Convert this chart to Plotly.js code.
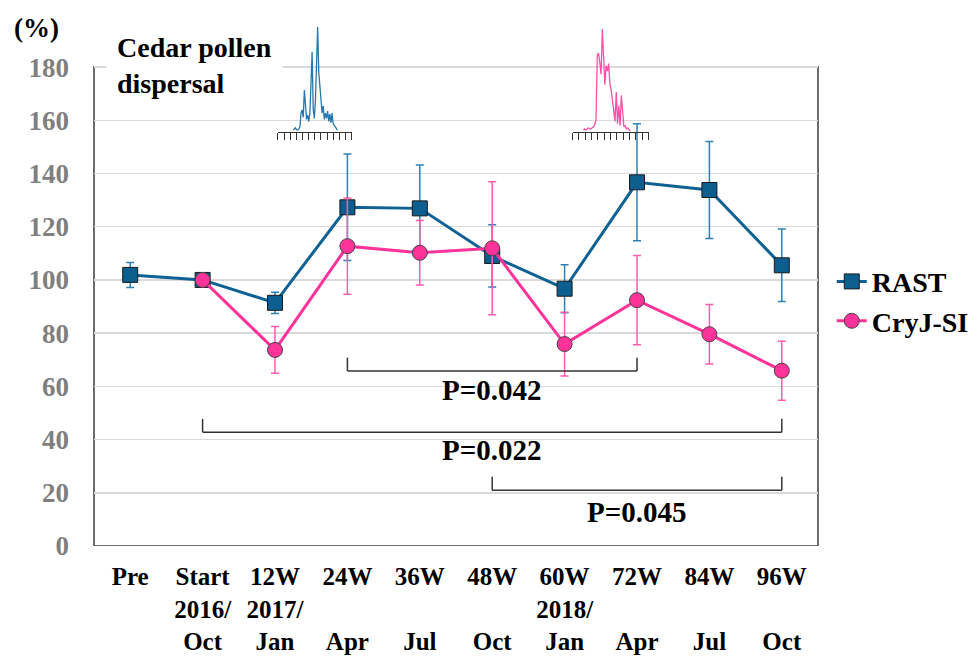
<!DOCTYPE html>
<html>
<head>
<meta charset="utf-8">
<script src="https://cdn.plot.ly/plotly-3.0.1.min.js"></script>
<style>html,body{margin:0;padding:0;background:#fff;}#chart{width:978px;height:659px;}</style>
</head>
<body>
<div id="chart"></div>
<script>
// ---- data ----
const categories = ['Pre','Start','12W','24W','36W','48W','60W','72W','84W','96W'];
const tickLabels = ['Pre','Start<br>2016/<br>Oct','12W<br>2017/<br>Jan','24W<br> <br>Apr','36W<br> <br>Jul',
                    '48W<br> <br>Oct','60W<br>2018/<br>Jan','72W<br> <br>Apr','84W<br> <br>Jul','96W<br> <br>Oct'];
const rastValues = [101.9, 100, 91.4, 127.3, 126.9, 109.0, 96.7, 136.7, 133.8, 105.5];
const rastErrors = [4.7, 0, 4.0, 20.0, 16.3, 11.7, 9.0, 22.0, 18.2, 13.6];
const cryjValues = [null, 100, 73.7, 112.7, 110.2, 111.9, 75.9, 92.4, 79.6, 65.9];
const cryjErrors = [0, 0, 8.8, 18.1, 12.1, 25.0, 12.0, 16.8, 11.2, 11.1];
const yTicks = [0, 20, 40, 60, 80, 100, 120, 140, 160, 180];

// cedar pollen dispersal insets (relative counts)
const pollen2017 = [2, 3, 4, 2, 2, 3, 5, 18, 21, 14, 40, 26, 12, 16, 10, 18, 45, 76, 22, 13, 30, 73, 100, 57,
                    41, 28, 18, 25, 12, 18, 13, 20, 10, 17, 9, 18, 8, 6, 5, 3, 2];
const pollen2018 = [2, 3, 2, 3, 4, 3, 3, 4, 5, 7, 12, 73, 75, 66, 55, 98, 62, 45, 63, 58, 65, 45, 40, 30,
                    22, 10, 38, 8, 25, 6, 35, 20, 5, 6, 3, 4, 2, 1];

// significance brackets: [fromIndex, toIndex, level, label, labelIndex, labelY]
const brackets = [
  [3, 7, 65.8, 'P=0.042', 5, 58.6],
  [1, 9, 42.8, 'P=0.022', 5, 36.0],
  [5, 9, 21.0, 'P=0.045', 7, 12.8]
];

const FONT = '"Liberation Serif", "Times New Roman", Times, serif';
const blue = '#0e6192', blueErr = '#2f80b3';
const pink = '#ff3399', pinkErr = '#ff5cae';

const traces = [
  {
    x: categories, y: rastValues, name: 'RAST', type: 'scatter', mode: 'lines+markers',
    line: {color: blue, width: 3},
    marker: {symbol: 'square', size: 15, color: '#0b5e8e', line: {color: '#1a1a1a', width: 1}},
    error_y: {type: 'data', array: rastErrors, visible: true, color: blueErr, thickness: 1.5, width: 4},
    xaxis: 'x', yaxis: 'y'
  },
  {
    x: categories, y: cryjValues, name: 'CryJ-SI', type: 'scatter', mode: 'lines+markers',
    line: {color: pink, width: 3},
    marker: {symbol: 'circle', size: 15, color: '#ff3399', line: {color: '#444', width: 1}},
    error_y: {type: 'data', array: cryjErrors, visible: true, color: pinkErr, thickness: 1.5, width: 4},
    xaxis: 'x', yaxis: 'y'
  },
  {
    y: pollen2017, x0: 2.5, dx: 0.18, type: 'scatter', mode: 'lines', showlegend: false,
    line: {color: '#2677ad', width: 1.3}, xaxis: 'x2', yaxis: 'y2', hoverinfo: 'skip'
  },
  {
    y: pollen2018, x0: 1.7, dx: 0.2, type: 'scatter', mode: 'lines', showlegend: false,
    line: {color: '#ff4fa7', width: 1.3}, xaxis: 'x3', yaxis: 'y3', hoverinfo: 'skip'
  }
];

const shapes = [
  // white backgrounds behind insets (hide the 160 gridline)
  {type: 'rect', xref: 'paper', yref: 'y', x0: 0.280, x1: 0.367, y0: 150, y1: 170, fillcolor: '#fff', line: {width: 0}, layer: 'between'},
  {type: 'rect', xref: 'paper', yref: 'y', x0: 0.692, x1: 0.782, y0: 150, y1: 170, fillcolor: '#fff', line: {width: 0}, layer: 'between'},
  // frame
  {type: 'rect', xref: 'paper', yref: 'y', x0: 0, x1: 1, y0: 0, y1: 180, line: {color: '#6b6b6b', width: 2}, layer: 'between'},
  // 100% reference line
  {type: 'line', xref: 'paper', yref: 'y', x0: 0, x1: 1, y0: 100, y1: 100, line: {color: '#000', width: 1.2, dash: 'dash'}, layer: 'between'}
];
const annotations = [];
brackets.forEach(b => {
  const [a, c, lvl, label, li, ly] = b;
  const st = {color: '#333', width: 1.5};
  shapes.push({type: 'line', xref: 'x', yref: 'y', x0: a, x1: c, y0: lvl, y1: lvl, line: st});
  shapes.push({type: 'line', xref: 'x', yref: 'y', x0: a, x1: a, y0: lvl, y1: lvl + 5, line: st});
  shapes.push({type: 'line', xref: 'x', yref: 'y', x0: c, x1: c, y0: lvl, y1: lvl + 5, line: st});
  annotations.push({xref: 'x', yref: 'y', x: li, y: ly, text: label, showarrow: false,
    xanchor: 'center', yanchor: 'middle', font: {family: FONT, size: 29, color: '#000', weight: 'bold'}});
});
annotations.push({xref: 'paper', yref: 'paper', x: 0.0166, y: 0.914, xanchor: 'left', yanchor: 'middle', align: 'left',
  text: 'Cedar pollen<br>dispersal', showarrow: false, bgcolor: '#fff', borderpad: 10,
  font: {family: FONT, size: 28, color: '#000', weight: 'bold'}});
annotations.push({xref: 'paper', yref: 'paper', x: -0.113, y: 0.985, xanchor: 'left', yanchor: 'middle',
  text: '(%)', showarrow: false, font: {family: FONT, size: 27, color: '#000', weight: 'bold'}});

const insetX = {range: [0, 12], tick0: 0, dtick: 1, ticks: 'outside', ticklen: 7, tickcolor: '#333', tickwidth: 1,
  showline: true, linecolor: '#333', linewidth: 1, showticklabels: false, showgrid: false, zeroline: false, fixedrange: true};
const insetY = {range: [0, 100], visible: false, showgrid: false, zeroline: false, domain: [0.787, 0.987]};

const layout = {
  width: 978, height: 659,
  margin: {l: 94, r: 160, t: 20, b: 113, autoexpand: false},
  paper_bgcolor: '#fff', plot_bgcolor: 'rgba(0,0,0,0)',
  font: {family: FONT},
  showlegend: true,
  legend: {x: 1.019, xanchor: 'left', y: 0.55, yanchor: 'top', bgcolor: 'rgba(0,0,0,0)',
    font: {family: FONT, size: 28, color: '#000', weight: 'bold'}, tracegroupgap: 0},
  xaxis: {type: 'category', range: [-0.5, 9.5], tickvals: categories, ticktext: tickLabels,
    ticks: '', showgrid: false, zeroline: false, showline: false, ticklabelstandoff: 13,
    tickfont: {family: FONT, size: 25, color: '#000', weight: 'bold'}},
  yaxis: {range: [0, 197.7], tickvals: yTicks, ticks: '', showline: false, zeroline: false,
    gridcolor: '#dadada', gridwidth: 1.5, ticklabelstandoff: 24,
    tickfont: {family: FONT, size: 27, color: '#7f7f7f', weight: 'bold'}},
  xaxis2: Object.assign({domain: [0.254, 0.356], anchor: 'y2'}, insetX),
  yaxis2: Object.assign({anchor: 'x2'}, insetY),
  xaxis3: Object.assign({domain: [0.661, 0.766], anchor: 'y3'}, insetX),
  yaxis3: Object.assign({anchor: 'x3'}, insetY),
  shapes: shapes,
  annotations: annotations
};

Plotly.newPlot('chart', traces, layout, {staticPlot: true, displayModeBar: false});
</script>
</body>
</html>
